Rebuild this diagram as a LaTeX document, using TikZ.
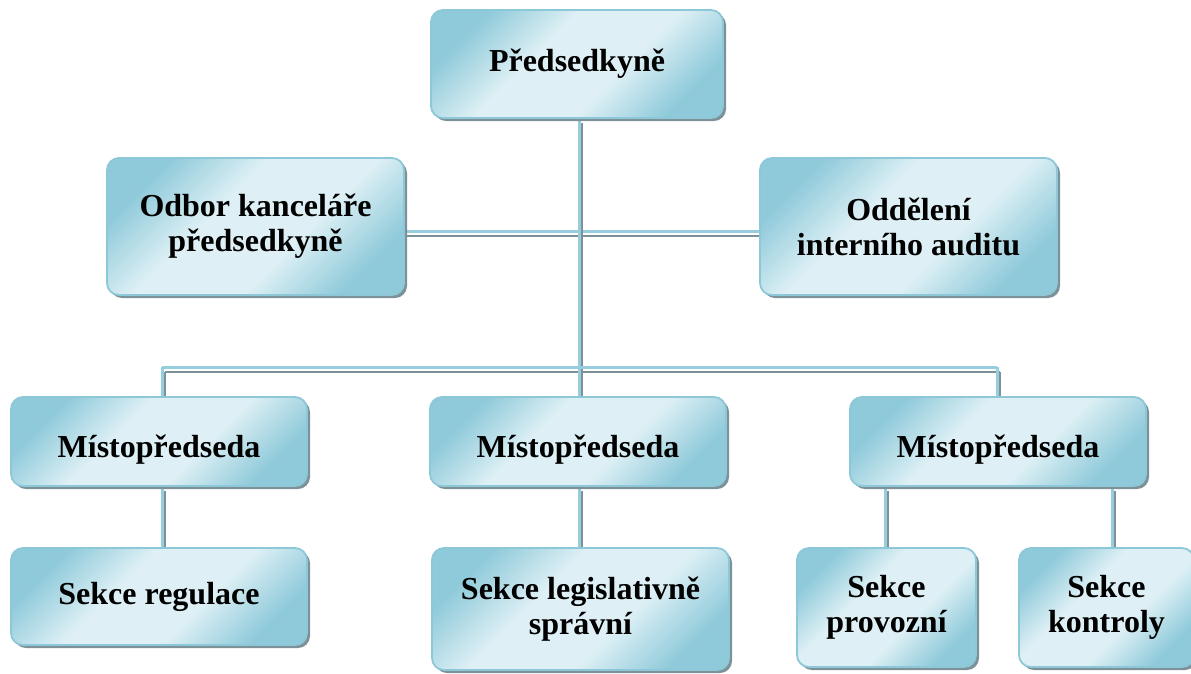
\documentclass[tikz,border=0pt]{standalone}
\usepackage{fontspec}
\setmainfont{Liberation Serif}
\usetikzlibrary{shadows}
\definecolor{boxdark}{RGB}{143,202,218}
\definecolor{boxlight}{RGB}{222,240,245}
\definecolor{boxborder}{RGB}{140,200,216}
\definecolor{shadowgray}{RGB}{125,145,152}
\definecolor{connblue}{RGB}{150,206,222}
\pgfdeclareverticalshading{boxshade}{100bp}{color(0bp)=(boxdark); color(25bp)=(boxdark); color(41bp)=(boxlight); color(59bp)=(boxlight); color(75bp)=(boxdark); color(100bp)=(boxdark)}
\tikzset{
  orgbox/.style={rounded corners=12pt, draw=boxborder, line width=1.8pt,
    shading=boxshade, shading angle=45,
    drop shadow={shadow xshift=3pt, shadow yshift=-3pt, fill=shadowgray, opacity=1},
    inner sep=0pt, align=center, text=black,
    font=\fontsize{32}{35}\selectfont\bfseries},
  conn/.style={draw=connblue, line width=3pt,
    preaction={draw=shadowgray, line width=2.5pt, transform canvas={shift={(3pt,-5pt)}}}},
}
\begin{document}
\begin{tikzpicture}[x=1pt,y=-1pt]
\useasboundingbox (0,0) rectangle (1191,673);
% coordinates for connector positions
\coordinate (b1) at (162,367);
\coordinate (b2) at (579,367);
\coordinate (b3) at (997,367);
\coordinate (c3) at (885,0);
\coordinate (c4) at (1112,0);
% node outlines used as connector ends
\path node[minimum width=292pt, minimum height=108pt, inner sep=0pt] (pred) at (577,64) {}
      node[minimum width=297pt, minimum height=137pt, inner sep=0pt] (odb) at (255.5,226.5) {}
      node[minimum width=297pt, minimum height=137pt, inner sep=0pt] (odd) at (908.5,226.5) {}
      node[minimum width=296pt, minimum height=89pt, inner sep=0pt] (m1) at (159,441.5) {}
      node[minimum width=296pt, minimum height=89pt, inner sep=0pt] (m2) at (578,441.5) {}
      node[minimum width=296pt, minimum height=89pt, inner sep=0pt] (m3) at (998,441.5) {}
      node[minimum width=296pt, minimum height=97pt, inner sep=0pt] (s1) at (159,596.5) {}
      node[minimum width=297pt, minimum height=122pt, inner sep=0pt] (s2) at (580.5,609) {}
      node[minimum width=179pt, minimum height=119pt, inner sep=0pt] (s3) at (886.5,607.5) {}
      node[minimum width=175pt, minimum height=119pt, inner sep=0pt] (s4) at (1106.5,607.5) {};
% connectors
\draw[conn] ([yshift=-4.5pt]odb.east) -- ([yshift=-4.5pt]odd.west);
\draw[conn] (pred.south -| b2) -- (b2);
\draw[conn] (b1) -- (b3);
\draw[conn] (b1) -- (m1.north -| b1);
\draw[conn] (b2) -- (m2.north -| b2);
\draw[conn] (b3) -- (m3.north -| b3);
\draw[conn] (m1.south -| b1) -- (s1.north -| b1);
\draw[conn] (m2.south -| b2) -- (s2.north -| b2);
\draw[conn] (m3.south -| c3) -- (s3.north -| c3);
\draw[conn] (m3.south -| c4) -- (s4.north -| c4);
% boxes
\node[orgbox, minimum width=292pt, minimum height=108pt] (predB) at (pred) {Předsedkyně};
\node[orgbox, minimum width=297pt, minimum height=137pt] (odbB) at (odb) {Odbor kanceláře\\předsedkyně};
\node[orgbox, minimum width=297pt, minimum height=137pt] (oddB) at (odd) {Oddělení\\interního auditu};
\node[orgbox, minimum width=296pt, minimum height=89pt, text height=31pt, text depth=0pt] (m1B) at (m1) {Místopředseda};
\node[orgbox, minimum width=296pt, minimum height=89pt, text height=31pt, text depth=0pt] (m2B) at (m2) {Místopředseda};
\node[orgbox, minimum width=296pt, minimum height=89pt, text height=31pt, text depth=0pt] (m3B) at (m3) {Místopředseda};
\node[orgbox, minimum width=296pt, minimum height=97pt] (s1B) at (s1) {Sekce regulace};
\node[orgbox, minimum width=297pt, minimum height=122pt] (s2B) at (s2) {Sekce legislativně\\správní};
\node[orgbox, minimum width=179pt, minimum height=119pt] (s3B) at (s3) {Sekce\\provozní};
\node[orgbox, minimum width=175pt, minimum height=119pt] (s4B) at (s4) {Sekce\\kontroly};
\end{tikzpicture}
\end{document}
